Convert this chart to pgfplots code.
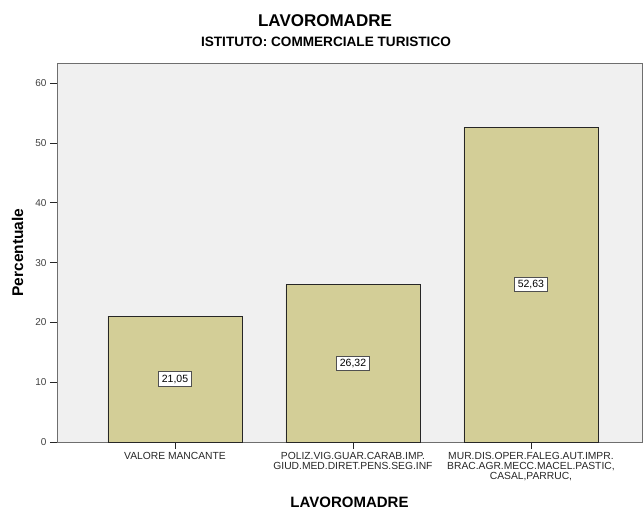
\documentclass[border=0pt]{standalone}
\usepackage{fontspec}
\setmainfont{Liberation Sans}
\usepackage{pgfplots}
\pgfplotsset{compat=1.18}
\usepackage{pgfplotstable}
\definecolor{barfill}{HTML}{D3CE97}
\definecolor{plotbg}{HTML}{F0F0F0}
\definecolor{framec}{HTML}{6E6E6E}
\definecolor{boxc}{HTML}{505050}

% percentuali per categoria (etichette con virgola decimale)
\pgfplotstableread{
x pct lab
0 21.05 21,05
1 26.32 26,32
2 52.63 52,63
}\madre

\begin{document}
\begin{tikzpicture}
\begin{axis}[
  scale only axis,
  width=585pt, height=379pt,
  xmin=-0.663, xmax=2.624,
  ymin=0, ymax=63.4,
  axis background/.style={fill=plotbg},
  axis line style={draw=framec, line width=0.8pt},
  tick pos=left,
  tick align=outside,
  major tick length=7pt,
  tick style={black!85, line width=0.8pt},
  xtick={0,1,2},
  xticklabels={VALORE MANCANTE,
    {POLIZ.VIG.GUAR.CARAB.IMP.\\GIUD.MED.DIRET.PENS.SEG.INF},
    {MUR.DIS.OPER.FALEG.AUT.IMPR.\\BRAC.AGR.MECC.MACEL.PASTIC,\\CASAL,PARRUC,}},
  xticklabel style={align=center, font=\fontsize{10.3}{10}\selectfont, text=black!85},
  ytick={0,10,...,60},
  yticklabel style={font=\fontsize{10}{12}\selectfont, text=black!75},
  /pgf/number format/assume math mode=true,
  ylabel={Percentuale},
  ylabel style={font=\bfseries\fontsize{15.5}{18}\selectfont,
    at={(axis description cs:-0.0581,0.5)}, anchor=base},
  xlabel={LAVOROMADRE},
  xlabel style={font=\bfseries\fontsize{15}{18}\selectfont,
    at={(axis description cs:0.5,0)}, anchor=base, yshift=-65pt},
]
\addplot[ybar, bar width=0.753, fill=barfill, draw=black!85, line width=0.8pt]
  table[x=x, y=pct] {\madre};
\addplot[draw=none, nodes near coords, point meta=explicit symbolic,
  every node near coord/.append style={anchor=center, fill=white, draw=boxc,
    line width=1.1pt, inner xsep=3pt, inner ysep=2.8pt,
    font=\fontsize{10.5}{10}\selectfont, text=black}]
  table[x=x, y expr=\thisrow{pct}/2, meta=lab] {\madre};
\end{axis}
\node[anchor=base, font=\bfseries\fontsize{17}{20}\selectfont]
  at ([shift={(268pt,36pt)}]current axis.north west) {LAVOROMADRE};
\node[anchor=base, font=\bfseries\fontsize{13.6}{16}\selectfont]
  at ([shift={(269pt,16pt)}]current axis.north west) {ISTITUTO: COMMERCIALE TURISTICO};
\pgfresetboundingbox
\path[use as bounding box] ([shift={(-57pt,-68pt)}]current axis.south west)
  rectangle ([shift={(1pt,63pt)}]current axis.north east);
\end{tikzpicture}
\end{document}
